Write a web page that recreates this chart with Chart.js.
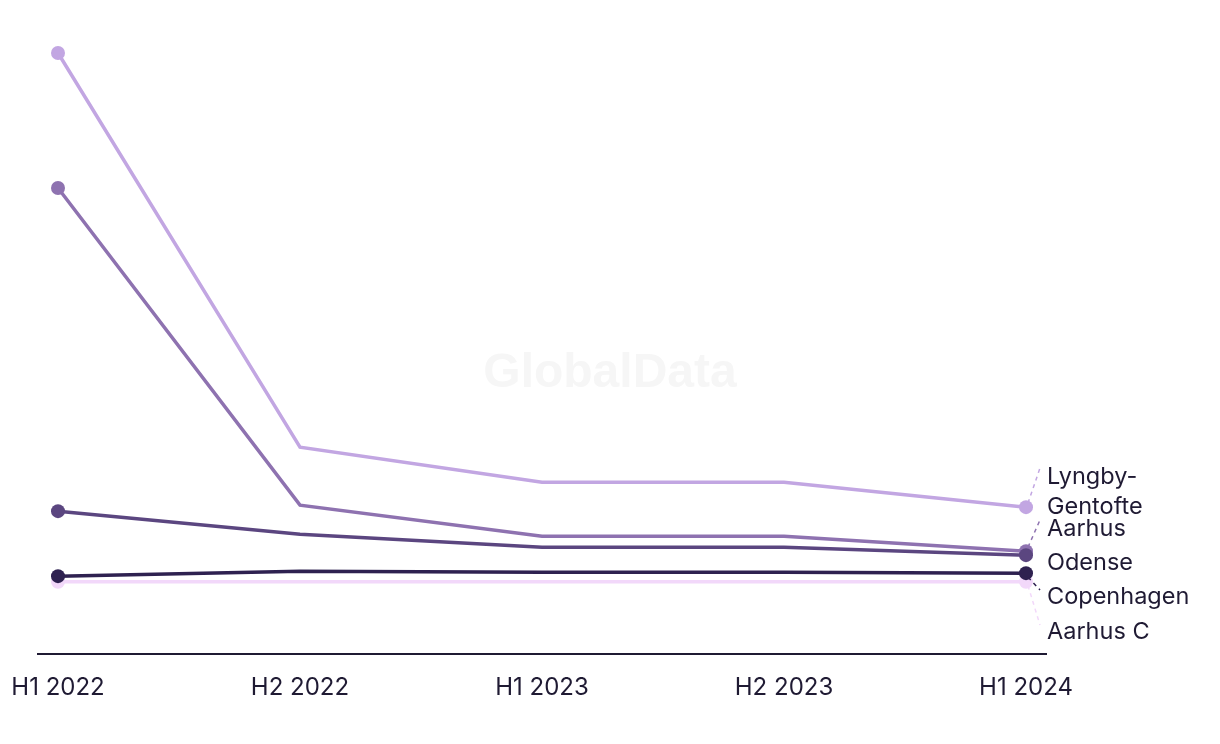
<!DOCTYPE html>
<html><head><meta charset="utf-8">
<script src="https://cdn.jsdelivr.net/npm/chart.js@4"></script>
<style>html,body{margin:0;padding:0;background:#fff;}#wrap{width:1220px;height:744px;position:relative;}</style>
</head><body><div id="wrap"><canvas id="c" width="1220" height="744"></canvas></div>
<script>
const categories = ['H1 2022','H2 2022','H1 2023','H2 2023','H1 2024'];
const seriesNames = ['Lyngby-Gentofte','Aarhus','Odense','Copenhagen','Aarhus C'];
const lyngbyGentofte = [106.2, 27.4, 20.4, 20.4, 15.4];
const aarhus = [79.2, 15.8, 9.6, 9.6, 6.6];
const odense = [14.6, 10.0, 7.4, 7.4, 5.8];
const copenhagen = [1.6, 2.6, 2.4, 2.4, 2.2];
const aarhusC = [0.5, 0.5, 0.5, 0.5, 0.5];
const colors = ['#c2a6e2','#8e72b0','#5b4680','#2e2150','#f2d8fa'];
const valuesList = [lyngbyGentofte, aarhus, odense, copenhagen, aarhusC];
const endLabels = [
  {lines:['Lyngby-','Gentofte'], y:477, conn:true},
  {lines:['Aarhus'], y:529, conn:true},
  {lines:['Odense'], y:563, conn:false},
  {lines:['Copenhagen'], y:597, conn:true},
  {lines:['Aarhus C'], y:632, conn:true}
];
const connectorTargets = [468, 520, null, 590, 625];

const drawOrder = [5,4,3,1,2];
const datasets = seriesNames.map((n,i)=>({
  label:n,
  data: valuesList[i].map((v,j)=>({x:j,y:v})),
  borderColor:colors[i], backgroundColor:colors[i],
  borderWidth:3.5, pointRadius:[7,0,0,0,7], pointHoverRadius:0, pointBorderWidth:0,
  tension:0, clip:false,
  order: drawOrder[i]
}));

const extras = {
  id:'extras',
  beforeDraw(chart){
    const ctx = chart.ctx;
    ctx.save();
    ctx.font = 'bold 48px "Liberation Sans", Arial, sans-serif';
    ctx.fillStyle = '#f6f6f6';
    ctx.textAlign='center'; ctx.textBaseline='middle';
    ctx.fillText('GlobalData', 610, 374);
    ctx.restore();
  },
  afterDraw(chart){
    const ctx = chart.ctx;
    const xs = chart.scales.x, ys = chart.scales.y;
    ctx.save();
    ctx.font = '23.5px Inter, "Noto Sans", sans-serif';
    ctx.fillStyle = '#1f1a33';
    ctx.textAlign='left'; ctx.textBaseline='middle';
    endLabels.forEach((l,i)=>{
      const vals = valuesList[i];
      const px = xs.getPixelForValue(4), py = ys.getPixelForValue(vals[4]);
      if (l.conn){
        const ty = connectorTargets[i];
        ctx.beginPath();
        ctx.setLineDash([4,4]);
        ctx.strokeStyle = colors[i];
        ctx.lineWidth = 1.5;
        ctx.moveTo(px+2, py + (ty<py ? -4 : 4));
        ctx.lineTo(px+14, ty);
        ctx.stroke();
        ctx.setLineDash([]);
      }
      l.lines.forEach((t,k)=>{
        ctx.fillText(t, 1047, l.y + k*30);
      });
    });
    ctx.restore();
  }
};

new Chart(document.getElementById('c'), {
  type:'line',
  data:{datasets},
  options:{
    responsive:false, animation:false,
    layout:{padding:{left:38, right:174, top:34, bottom:23}},
    plugins:{legend:{display:false}, tooltip:{enabled:false}},
    scales:{
      x:{type:'linear', min:-20/242, max:4+20/242,
        afterBuildTicks(s){ s.ticks = categories.map((c,i)=>({value:i})); },
        afterFit(s){ s.paddingLeft = 0; s.paddingRight = 0; },
        ticks:{callback:(v)=>categories[v], color:'#1f1a33', padding:19, autoSkip:false, maxRotation:0,
          font:{family:'Inter, "Noto Sans", sans-serif', size:24}},
        grid:{display:false, drawTicks:false},
        border:{display:true, color:'#1f1a33', width:2}
      },
      y:{display:false, min:-14, max:110}
    }
  },
  plugins:[extras]
});
</script></body></html>
